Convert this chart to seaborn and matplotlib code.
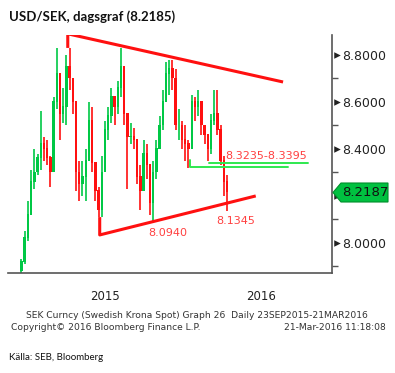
import numpy as np
import pandas as pd
import matplotlib
matplotlib.use("Agg")
import matplotlib.pyplot as plt
import matplotlib.dates as mdates
import matplotlib.transforms as mtransforms
from matplotlib.patches import Polygon
import seaborn as sns

# ---------------- data (weekly OHLC) ----------------
highs = [7.93, 8.05, 8.18, 8.31, 8.40, 8.38, 8.56, 8.45, 8.44, 8.37,
         8.62, 8.83, 8.69, 8.66, 8.80, 8.83, 8.69, 8.60, 8.35, 8.35,
         8.40, 8.60, 8.58, 8.34, 8.24, 8.37, 8.52, 8.58, 8.66, 8.62,
         8.69, 8.83, 8.75, 8.55, 8.51, 8.49, 8.44, 8.33, 8.44, 8.42,
         8.33, 8.35, 8.44, 8.54, 8.65, 8.77, 8.78, 8.78, 8.74, 8.57,
         8.52, 8.50, 8.44, 8.63, 8.62, 8.65, 8.60, 8.50, 8.46, 8.55,
         8.65, 8.65, 8.50, 8.37, 8.29]
lows = [7.87, 7.91, 8.01, 8.16, 8.23, 8.29, 8.31, 8.35, 8.33, 8.24,
        8.40, 8.57, 8.44, 8.51, 8.50, 8.65, 8.55, 8.22, 8.18, 8.20,
        8.18, 8.36, 8.30, 8.18, 8.11, 8.11, 8.30, 8.44, 8.51, 8.50,
        8.55, 8.62, 8.50, 8.23, 8.42, 8.40, 8.25, 8.14, 8.22, 8.27,
        8.12, 8.094, 8.27, 8.40, 8.48, 8.60, 8.63, 8.65, 8.48, 8.44,
        8.40, 8.35, 8.32, 8.40, 8.52, 8.54, 8.46, 8.42, 8.35, 8.38,
        8.50, 8.46, 8.33, 8.20, 8.1345]
closes = [7.92, 8.02, 8.12, 8.26, 8.30, 8.36, 8.42, 8.40, 8.36, 8.30,
          8.60, 8.72, 8.55, 8.58, 8.75, 8.70, 8.60, 8.30, 8.25, 8.28,
          8.35, 8.52, 8.34, 8.22, 8.14, 8.30, 8.48, 8.54, 8.62, 8.58,
          8.66, 8.75, 8.55, 8.45, 8.45, 8.44, 8.28, 8.22, 8.38, 8.33,
          8.17, 8.30, 8.40, 8.50, 8.60, 8.72, 8.74, 8.70, 8.50, 8.50,
          8.44, 8.42, 8.40, 8.60, 8.58, 8.60, 8.50, 8.46, 8.40, 8.52,
          8.55, 8.48, 8.35, 8.26, 8.2187]
first_open = 7.88
start_date, end_date = "2015-01-02", "2016-03-21"

# trend lines (annotation): dates and levels
upper_dates = ["2015-04-12", "2015-04-12", "2016-07-20"]
upper_vals = [8.83, 8.89, 8.685]
lower_dates = ["2015-06-20", "2015-06-20", "2016-05-22"]
lower_vals = [8.11, 8.034, 8.20]
zone_low_dates = ["2016-01-01", "2016-01-01", "2016-07-31"]
zone_low_vals = [8.353, 8.3235, 8.3235]
zone_high_dates = ["2016-02-12", "2016-09-12"]
zone_high_vals = [8.3395, 8.3395]

last_price = "8.2187"
yticks = [8.0, 8.2, 8.4, 8.6, 8.8]
ytick_labels = ["8.0000", "", "8.4000", "8.6000", "8.8000"]
yminor = [7.9, 8.1, 8.3, 8.5, 8.7]
year_labels = ["2015", "2016"]

# ---------------- build table ----------------
dates = pd.date_range(start_date, end_date, periods=len(closes))
opens = [first_open] + closes[:-1]
df = pd.DataFrame({"date": dates, "open": opens, "high": highs,
                   "low": lows, "close": closes})
df["up"] = df["close"] >= df["open"]

# ---------------- figure ----------------
sns.set_style("white")
plt.rcParams["font.family"] = ["DejaVu Sans"]
fig = plt.figure(figsize=(3.95, 3.73), dpi=100)
W, H = 395, 373
ax = fig.add_axes([8 / W, (H - 273) / H, (332 - 8) / W, (273 - 35) / H])

GREEN = "#00c845"
RED = "#ff1010"

x = mdates.date2num(df["date"])
cols = np.where(df["up"], GREEN, RED)
ax.vlines(x, df["low"], df["high"], colors=cols, lw=1.2, zorder=2)
bottoms = np.minimum(df["open"], df["close"])
heights = np.abs(df["close"] - df["open"]) + 0.004
ax.bar(x, heights, bottom=bottoms, width=5.2, color=cols, lw=0, zorder=3)

def d2n(lst):
    return mdates.date2num(pd.to_datetime(lst))

ax.plot(d2n(upper_dates), upper_vals, color=RED, lw=2.2, zorder=4,
        solid_capstyle="butt")
ax.plot(d2n(lower_dates), lower_vals, color=RED, lw=2.2, zorder=4,
        solid_capstyle="butt")
ax.plot(d2n(zone_low_dates), zone_low_vals, color="#2ee84f", lw=1.4, zorder=4)
ax.plot(d2n(zone_high_dates), zone_high_vals, color="#2ee84f", lw=1.4, zorder=4)

LBL = "#ff4040"
ax.text(mdates.date2num(pd.Timestamp("2016-06-14")), 8.37, "8.3235-8.3395",
        color=LBL, fontsize=8, ha="center", va="center", zorder=5)
ax.text(mdates.date2num(pd.Timestamp("2015-11-14")), 8.043, "8.0940",
        color=LBL, fontsize=8, ha="center", va="center", zorder=5)
ax.text(mdates.date2num(pd.Timestamp("2016-04-09")), 8.094, "8.1345",
        color=LBL, fontsize=8, ha="center", va="center", zorder=5)

# ---------------- axes ----------------
base = mdates.date2num(pd.Timestamp("2015-01-01"))
ppd = 169 / 365.0
ax.set_xlim(base - 13 / ppd, base + 311 / ppd)
ax.set_ylim(7.872, 8.885)

for s in ["left", "top"]:
    ax.spines[s].set_visible(False)
for s in ["right", "bottom"]:
    ax.spines[s].set_color("#555555")
    ax.spines[s].set_linewidth(1.2)

ax.yaxis.tick_right()
ax.set_yticks(yticks)
ax.set_yticklabels(ytick_labels)
ax.set_yticks(yminor, minor=True)
ax.tick_params(axis="y", which="major", length=0, pad=7.5,
               labelsize=9, labelcolor="#222222")
ax.tick_params(axis="y", which="minor", length=4, width=1, color="#555555",
               right=True, left=False)

ymaj = pd.to_datetime(["2015-01-01", "2016-01-01"])
ymin = pd.to_datetime(["2015-04-01", "2015-07-01", "2015-10-01",
                       "2016-04-01", "2016-07-01", "2016-10-01"])
ax.set_xticks(mdates.date2num(ymaj))
ax.set_xticklabels(["", ""])
ax.set_xticks(mdates.date2num(ymin), minor=True)
ax.tick_params(axis="x", which="major", length=23, width=1, color="#888888")
ax.tick_params(axis="x", which="minor", length=3, width=1, color="#555555")

blend = mtransforms.blended_transform_factory(ax.transAxes, ax.transData)
ax.scatter([1.016] * len(yticks), yticks, marker=">", s=22, color="#222222",
           transform=blend, clip_on=False, zorder=6, lw=0)

# current-price tag (pixel-shaped box in figure space)
def fx(px):
    return px / W
def fy(py):
    return 1 - py / H
tag_y = 192.5
tag = Polygon([(fx(333), fy(tag_y)), (fx(341), fy(183)), (fx(388), fy(183)),
               (fx(388), fy(202)), (fx(341), fy(202))], closed=True,
              transform=fig.transFigure, fc="#00c040", ec="#008f2c", lw=0.8,
              zorder=7)
fig.patches.append(tag)
fig.text(fx(365), fy(tag_y), last_price, ha="center", va="center",
         fontsize=9.5, color="#111111", zorder=8)

# year labels
fig.text(fx(105.5), fy(297), year_labels[0], ha="center", va="center",
         fontsize=8.5, color="#222222")
fig.text(fx(261), fy(297), year_labels[1], ha="center", va="center",
         fontsize=8.5, color="#222222")

# footer
fig.text(fx(26), fy(315),
         "SEK Curncy (Swedish Krona Spot) Graph 26  Daily 23SEP2015-21MAR2016",
         ha="left", va="center", fontsize=6.6, color="#333333")
fig.text(fx(11), fy(328), "Copyright\u00a9 2016 Bloomberg Finance L.P.",
         ha="left", va="center", fontsize=6.6, color="#333333")
fig.text(fx(386), fy(328), "21-Mar-2016 11:18:08",
         ha="right", va="center", fontsize=6.6, color="#333333")
fig.text(fx(9), fy(358), "Källa: SEB, Bloomberg", ha="left", va="center",
         fontsize=7, color="#111111", family=["Lato", "DejaVu Sans"])

# title
fig.text(fx(9), fy(17), "USD/SEK, dagsgraf (8.2185)", ha="left",
         va="center", fontsize=9.5, fontweight="bold", color="#111111",
         family=["Lato", "DejaVu Sans"])

fig.savefig("out.png", dpi=100, facecolor="white")
